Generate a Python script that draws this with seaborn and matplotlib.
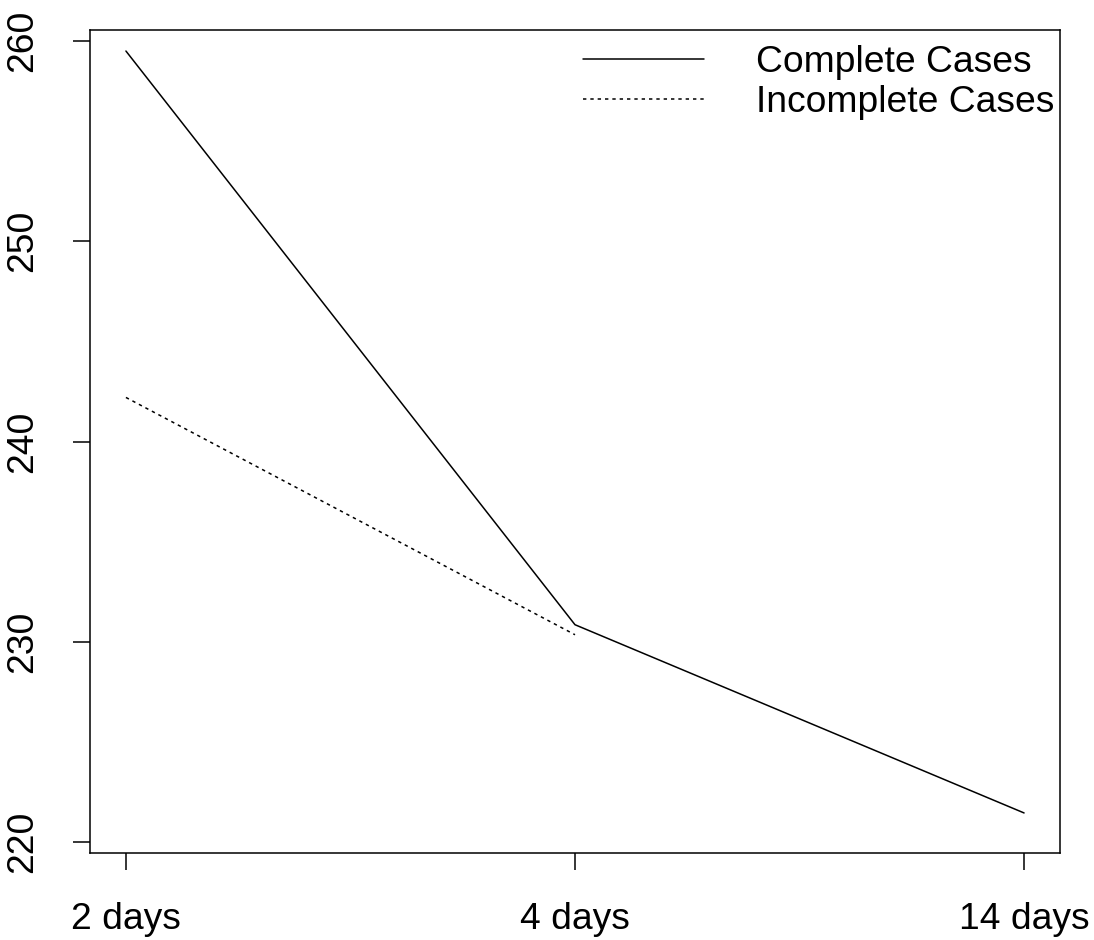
import numpy as np
import pandas as pd
import matplotlib
matplotlib.use("Agg")
import matplotlib.pyplot as plt
import seaborn as sns

# Follow-up times and mean values for each group
days = ["2 days", "4 days", "14 days"]
complete_cases = [259.5, 230.85, 221.45]
incomplete_cases = [242.2, 230.35]

y_ticks = [220, 230, 240, 250, 260]

sns.set_style("ticks")
plt.rcParams["font.family"] = ["Liberation Sans", "DejaVu Sans"]
plt.rcParams["text.color"] = "black"

df_complete = pd.DataFrame({"day": days, "value": complete_cases})
df_incomplete = pd.DataFrame({"day": days[:len(incomplete_cases)], "value": incomplete_cases})

fig = plt.figure(figsize=(10.94, 9.40), dpi=100)
ax = fig.add_axes([90 / 1094, 1 - 853 / 940, 970 / 1094, 823 / 940])

sns.lineplot(data=df_complete, x="day", y="value", ax=ax, color="black",
             linewidth=1.1, label="Complete Cases", sort=False)
sns.lineplot(data=df_incomplete, x="day", y="value", ax=ax, color="black",
             linewidth=1.1, linestyle=(0, (2.2, 2.6)), label="Incomplete Cases", sort=False)

ax.set_xlim(-0.08, 2.08)
ax.set_ylim(219.45, 260.55)
ax.set_xticks(range(len(days)))
ax.set_xticklabels(days)
ax.set_yticks(y_ticks)
ax.set_yticklabels([str(t) for t in y_ticks], rotation=90, va="center")
ax.set_xlabel("")
ax.set_ylabel("")

for side in ["left", "right", "top", "bottom"]:
    ax.spines[side].set_visible(True)
    ax.spines[side].set_linewidth(1.1)
    ax.spines[side].set_color("black")

ax.tick_params(axis="both", direction="out", length=12.2, width=1.1,
               color="black", labelsize=26.8, labelcolor="black")
ax.tick_params(axis="x", pad=23)
ax.tick_params(axis="y", pad=24)

leg = ax.legend(loc="upper left", bbox_to_anchor=((583 - 90) / 970, (853 - 45) / 823),
                frameon=False, fontsize=26.8, handlelength=3.25, handletextpad=1.4,
                labelspacing=0.13, borderpad=0, borderaxespad=0)
for txt in leg.get_texts():
    txt.set_color("black")

fig.savefig("out.png", dpi=100)
